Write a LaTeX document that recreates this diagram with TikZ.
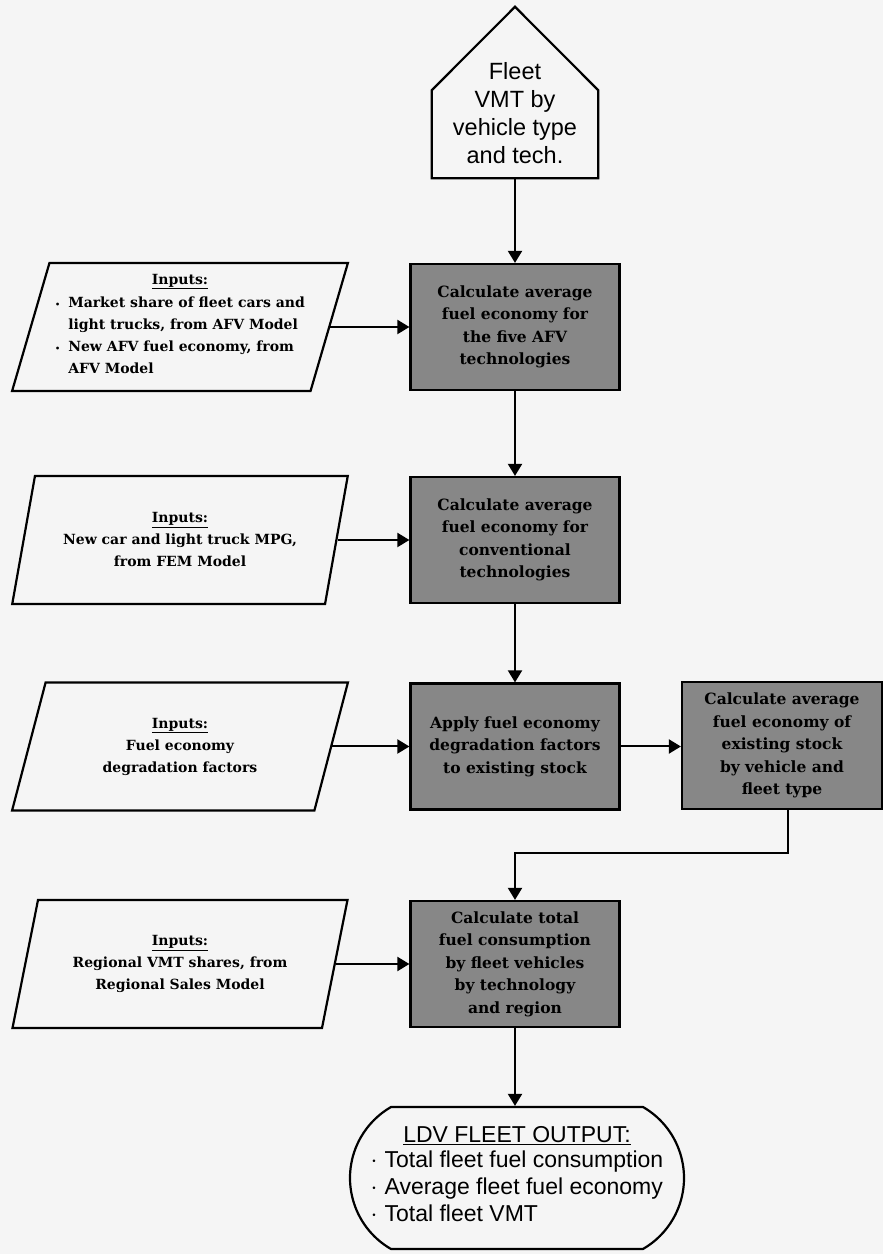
\documentclass[tikz,border=0pt]{standalone}
\usepackage{fontspec}
\setmainfont{Liberation Sans}
\newfontfamily\slab{DejaVu Serif}
\usetikzlibrary{arrows.meta,shapes.geometric,shapes.misc,calc}
\definecolor{bg}{RGB}{245,245,245}
\definecolor{boxfill}{RGB}{135,135,135}
\begin{document}
\begin{tikzpicture}[x=1pt,y=1pt,
  procbox/.style={draw=black, line width=2.2pt, fill=boxfill, minimum width=209pt, minimum height=126pt, inner sep=0pt, align=center, font=\slab\bfseries\fontsize{15.5}{22.5}\selectfont},
  inbox/.style={draw=black, line width=2.2pt, trapezium, trapezium left angle=71.4, trapezium right angle=108.6, trapezium stretches=true, minimum width=336pt, minimum height=128pt, inner sep=0pt, align=center, font=\slab\bfseries\fontsize{14}{22}\selectfont},
  conn/.style={line width=2pt, -{Triangle[length=12pt,width=14pt]}},
  sansbig/.style={font=\fontsize{23}{26}\selectfont},
]
\useasboundingbox (0,0) rectangle (883,1254);
\fill[bg] (0,0) rectangle (883,1254);

% house
\node[minimum width=166pt, minimum height=171pt, inner sep=0pt] (house) at (515,1161.5) {};
\draw[line width=2.2pt, line join=miter] (house.south west) -- (house.south east) -- ++(0,88) -- (house.north) -- ($(house.south west)+(0,88)$) -- cycle;
\node[align=center, font=\fontsize{23.5}{28}\selectfont] (housetext) at (515,1141) {Fleet\\VMT by\\vehicle type\\and tech.};

% process boxes
\node[procbox] (b1) at (515,927) {Calculate average\\fuel economy for\\the five AFV\\technologies};
\node[procbox] (b2) at (515,714) {Calculate average\\fuel economy for\\conventional\\technologies};
\node[procbox] (b3) at (515,507.5) {Apply fuel economy\\degradation factors\\to existing stock};
\node[procbox, minimum width=200pt, minimum height=127pt] (b4) at (782,508.5) {Calculate average\\fuel economy of\\existing stock\\by vehicle and\\fleet type};
\node[procbox] (b5) at (515,290) {Calculate total\\fuel consumption\\by fleet vehicles\\by technology\\and region};

% inputs
\node[inbox] (i1) at (180,927) {\underline{Inputs:}\\[2pt]
  \begin{tabular}{@{}l@{\hspace{8pt}}l@{}}
  {\fontsize{8}{8}\selectfont\textbullet} & Market share of fleet cars and\\
   & light trucks, from AFV Model\\
  {\fontsize{8}{8}\selectfont\textbullet} & New AFV fuel economy, from\\
   & AFV Model
  \end{tabular}};
\node[inbox] (i2) at (180,714) {\underline{Inputs:}\\New car and light truck MPG,\\from FEM Model};
\node[inbox] (i3) at (180,507.5) {\underline{Inputs:}\\Fuel economy\\degradation factors};
\node[inbox] (i4) at (180,290) {\underline{Inputs:}\\Regional VMT shares, from\\Regional Sales Model};

% output
\node[draw, line width=2.2pt, rounded rectangle, rounded rectangle arc length=120, minimum width=334pt, minimum height=142pt, inner sep=0pt, align=center, sansbig] (out) at (517,76) {\underline{LDV FLEET OUTPUT:}\\[3pt]
  \begin{tabular}{@{}l@{\hspace{7pt}}l@{}}
  $\cdot$ & Total fleet fuel consumption\\[1pt]
  $\cdot$ & Average fleet fuel economy\\[1pt]
  $\cdot$ & Total fleet VMT
  \end{tabular}};

% connectors
\draw[conn] (house.south) -- (b1.north);
\draw[conn] (b1.south) -- (b2.north);
\draw[conn] (b2.south) -- (b3.north);
\draw[conn] (i1.east) -- (i1.east -| b1.west);
\draw[conn] (i2.east) -- (i2.east -| b2.west);
\draw[conn] (i3.east) -- (i3.east -| b3.west);
\draw[conn] (i4.east) -- (i4.east -| b5.west);
\draw[conn] (b3.east) -- (b3.east -| b4.west);
\coordinate (turn) at (788,401);
\draw[conn] (b4.south -| turn) -- (turn) -- (turn -| b5.north) -- (b5.north);
\draw[conn] (b5.south) -- (b5.south |- out.north);
\end{tikzpicture}
\end{document}
